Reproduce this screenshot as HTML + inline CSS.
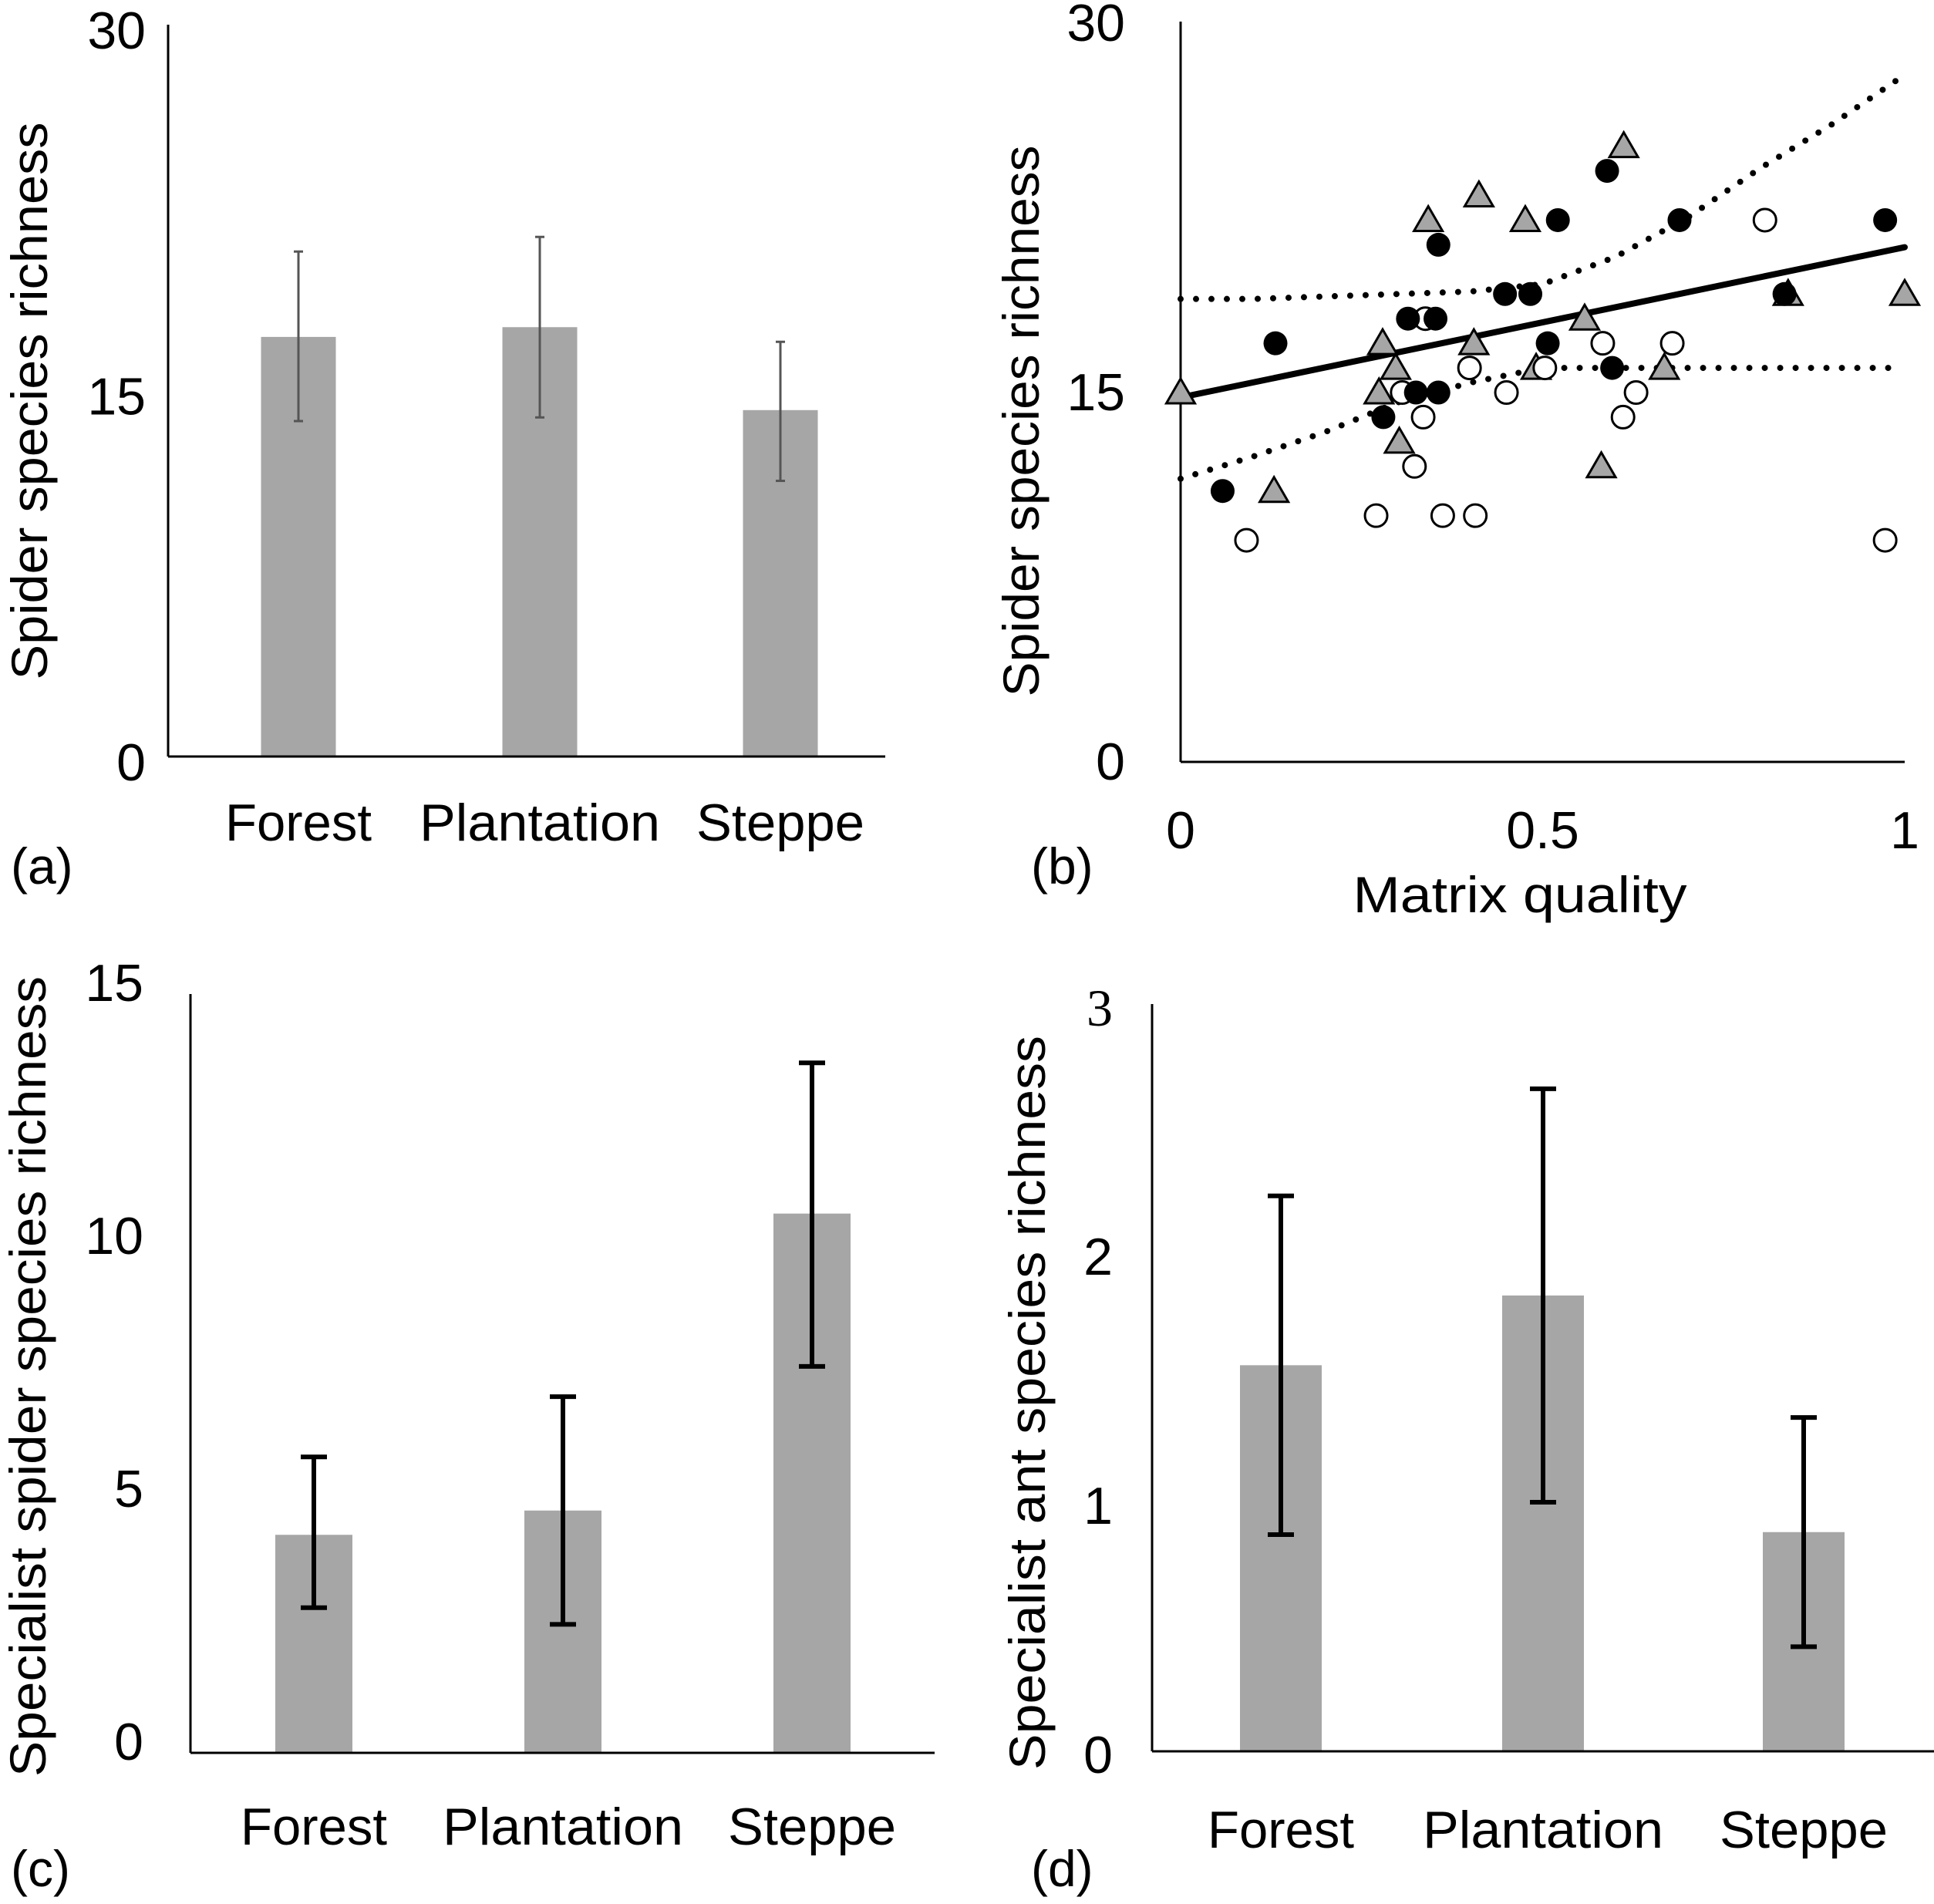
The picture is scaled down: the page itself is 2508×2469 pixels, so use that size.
<!DOCTYPE html>
<html><head><meta charset="utf-8"><style>
html,body{margin:0;padding:0;background:#fff;}
svg{display:block;font-family:"Liberation Sans",sans-serif;}
</style></head><body>
<svg id="fig" width="2508" height="2469" viewBox="0 0 2508 2469" xmlns="http://www.w3.org/2000/svg">
<rect width="2508" height="2469" fill="#fff"/>
</svg>
<script>
const NS='http://www.w3.org/2000/svg';
const svg=document.getElementById('fig');
function mk(tag,attrs,parent){const e=document.createElementNS(NS,tag);for(const k in attrs)e.setAttribute(k,attrs[k]);(parent||svg).appendChild(e);return e;}

// ---------- data ----------
const categories=['Forest','Plantation','Steppe'];
const aMeans=[17.2,17.6,14.2];
const aUpper=[20.7,21.3,17.0];
const aLower=[13.75,13.9,11.3];
const aTicks=[0,15,30];
const cMeans=[4.31,4.79,10.66];
const cUpper=[5.85,7.04,13.64];
const cLower=[2.87,2.54,7.64];
const cTicks=[0,5,10,15];
const dMeans=[1.55,1.83,0.88];
const dUpper=[2.23,2.66,1.34];
const dLower=[0.87,1.0,0.42];
const dTicks=[0,1,2,3];

const bBlackX=[0.131,0.058,0.356,0.521,0.589,0.689,0.973,0.448,0.483,0.314,0.352,0.507,0.596,0.28,0.325,0.356,0.834];
const bBlackY=[17,11,21,22,24,22,22,19,19,18,18,17,16,14,15,15,19];
const bOpenX=[0.091,0.27,0.362,0.407,0.323,0.335,0.306,0.338,0.399,0.45,0.503,0.583,0.611,0.629,0.679,0.807,0.973];
const bOpenY=[9,10,10,10,12,14,15,18,16,15,16,17,14,15,17,22,9];
const bTriX=[0,0.129,0.279,0.297,0.274,0.302,0.342,0.412,0.476,0.405,0.491,0.558,0.612,0.581,0.668,0.839,1.0];
const bTriY=[15,11,17,16,15,13,22,23,22,17,16,18,25,12,16,19,19];
const bFitX=[0,1];
const bFitY=[14.8,20.9];
const bCIX=[0,0.1,0.2,0.3,0.4,0.5,0.6,0.7,0.8,0.9,0.99];
const bCIUpper=[18.8,18.8,18.9,19.0,19.1,19.4,20.5,22.1,24.1,25.9,27.7];
const bCILower=[11.5,12.4,13.4,14.6,15.4,16.0,16.0,16.0,16.0,16.0,16.0];
const bYTicks=[0,15,30];
const bXTicks=[0,0.5,1];
const bXTickLabels=['0','0.5','1'];

function label(txt,x,y,size,anchor,name,extra){
  const t=mk('text',Object.assign({x:x,y:y,'font-size':size,'text-anchor':anchor||'start',fill:'#000'},extra||{}));
  t.textContent=txt;
  
  
  return t;
}

function barPanel(p){
  const g=mk('g',{});
  
  
  const yS=v=>p.y0-(v-p.min)/(p.max-p.min)*(p.y0-p.yTop);
  p.means.forEach((m,i)=>{
    const cx=p.cx[i];
    const r=mk('rect',{x:cx-p.bw/2,y:yS(m),width:p.bw,height:yS(0)-yS(m),fill:'#a6a6a6'},g);
    
    
    const eg=mk('g',{stroke:p.ec,'stroke-width':p.ew,fill:'none'},g);
    
    
    mk('line',{x1:cx,x2:cx,y1:yS(p.up[i]),y2:yS(p.lo[i])},eg);
    mk('line',{x1:cx-p.cap,x2:cx+p.cap,y1:yS(p.up[i]),y2:yS(p.up[i])},eg);
    mk('line',{x1:cx-p.cap,x2:cx+p.cap,y1:yS(p.lo[i]),y2:yS(p.lo[i])},eg);
    label(categories[i],cx,p.catY,68,'middle','x-tick-label',{textLength:p.catW[i],lengthAdjust:'spacingAndGlyphs'});
  });
  const ya=mk('line',{x1:p.ax,x2:p.ax,y1:p.yTop,y2:p.y0,stroke:'#000','stroke-width':3},g);
  
  const xa=mk('line',{x1:p.ax,x2:p.axR,y1:p.y0,y2:p.y0,stroke:'#000','stroke-width':3},g);
  
  p.ticks.forEach((t,i)=>{
    const ex={'dominant-baseline':'central'};
    if(p.serifLast && i===p.ticks.length-1) ex['font-family']='"Liberation Serif",serif';
    label(String(t),p.tickR,yS(t)+p.toff,68,'end','y-tick-label',ex);
  });
  label(p.title,0,0,66,'middle','y-axis-title',{transform:`translate(${p.tx},${p.ty}) rotate(-90)`,'dominant-baseline':'central',textLength:p.tl,lengthAdjust:'spacingAndGlyphs'});
  label(p.panel,p.px,p.py,66,'start','panel-label');
}

barPanel({name:'panel-a',means:aMeans,up:aUpper,lo:aLower,ticks:aTicks,min:0,max:30,y0:981,yTop:32,ax:218,axR:1148,
  cx:[387,700,1012],bw:97,ec:'#555',ew:3,cap:6,catY:1090,catW:[190,312,218],tickR:189,toff:8,
  title:'Spider species richness',tx:38,ty:520,tl:723,panel:'(a)',px:14,py:1146});
barPanel({name:'panel-c',means:cMeans,up:cUpper,lo:cLower,ticks:cTicks,min:0,max:15,y0:2273,yTop:1289,ax:247,axR:1212,
  cx:[407,730,1053],bw:100,ec:'#000',ew:6,cap:17,catY:2392,catW:[190,312,218],tickR:186,toff:-14,
  title:'Specialist spider species richness',tx:36,ty:1785,tl:1038,panel:'(c)',px:14,py:2446});
barPanel({name:'panel-d',means:dMeans,up:dUpper,lo:dLower,ticks:dTicks,min:0,max:3,y0:2271,yTop:1302,ax:1494,axR:2508,
  cx:[1661,2001,2339],bw:106,ec:'#000',ew:6,cap:17,catY:2396,catW:[190,312,218],tickR:1443,toff:5,serifLast:true,
  title:'Specialist ant species richness',tx:1332,ty:1819,tl:952,panel:'(d)',px:1337,py:2446});

// ---------- panel b scatter ----------
(function(){
  const g=mk('g',{});
  
  
  const X0=1531,X1=2470,Y0=988,Y30=30;
  const xS=v=>X0+v*(X1-X0);
  const yS=v=>Y0-v/30*(Y0-Y30);
  const ya=mk('line',{x1:X0,x2:X0,y1:28,y2:Y0,stroke:'#000','stroke-width':3},g);
  
  const xa=mk('line',{x1:X0,x2:2470,y1:Y0,y2:Y0,stroke:'#000','stroke-width':3},g);
  
  bYTicks.forEach(t=>label(String(t),1459,yS(t)+0,68,'end','y-tick-label',{'dominant-baseline':'central'}));
  bXTicks.forEach((t,i)=>label(bXTickLabels[i],xS(t),1100,68,'middle','x-tick-label'));
  label('Matrix quality',1971,1183,66,'middle','x-axis-title',{textLength:433,lengthAdjust:'spacingAndGlyphs'});
  label('Spider species richness',0,0,66,'middle','y-axis-title',{transform:'translate(1324,546) rotate(-90)','dominant-baseline':'central',textLength:715,lengthAdjust:'spacingAndGlyphs'});
  label('(b)',1337,1146,66,'start','panel-label');

  const pts=(xs,ys)=>xs.map((x,i)=>xS(x)+','+yS(ys[i])).join(' ');
  const ciU=mk('polyline',{points:pts(bCIX,bCIUpper),fill:'none',stroke:'#000','stroke-width':8,'stroke-linecap':'round','stroke-dasharray':'0 20'},g);
  
  const ciL=mk('polyline',{points:pts(bCIX,bCILower),fill:'none',stroke:'#000','stroke-width':8,'stroke-linecap':'round','stroke-dasharray':'0 20'},g);
  
  const fit=mk('polyline',{points:pts(bFitX,bFitY),fill:'none',stroke:'#000','stroke-width':8,'stroke-linecap':'round'},g);
  

  bTriX.forEach((x,i)=>{
    const cx=xS(x),cy=yS(bTriY[i]);
    const t=mk('polygon',{points:`${cx-18.5},${cy+14} ${cx+18.5},${cy+14} ${cx},${cy-18}`,fill:'#a6a6a6',stroke:'#000','stroke-width':3,'stroke-linejoin':'miter'},g);
    
    
  });
  bOpenX.forEach((x,i)=>{
    const c=mk('circle',{cx:xS(x),cy:yS(bOpenY[i]),r:14.5,fill:'#fff',stroke:'#000','stroke-width':3},g);
    
    
  });
  bBlackX.forEach((x,i)=>{
    const c=mk('circle',{cx:xS(x),cy:yS(bBlackY[i]),r:15.5,fill:'#000'},g);
    
    
  });
})();
</script>
</body></html>
